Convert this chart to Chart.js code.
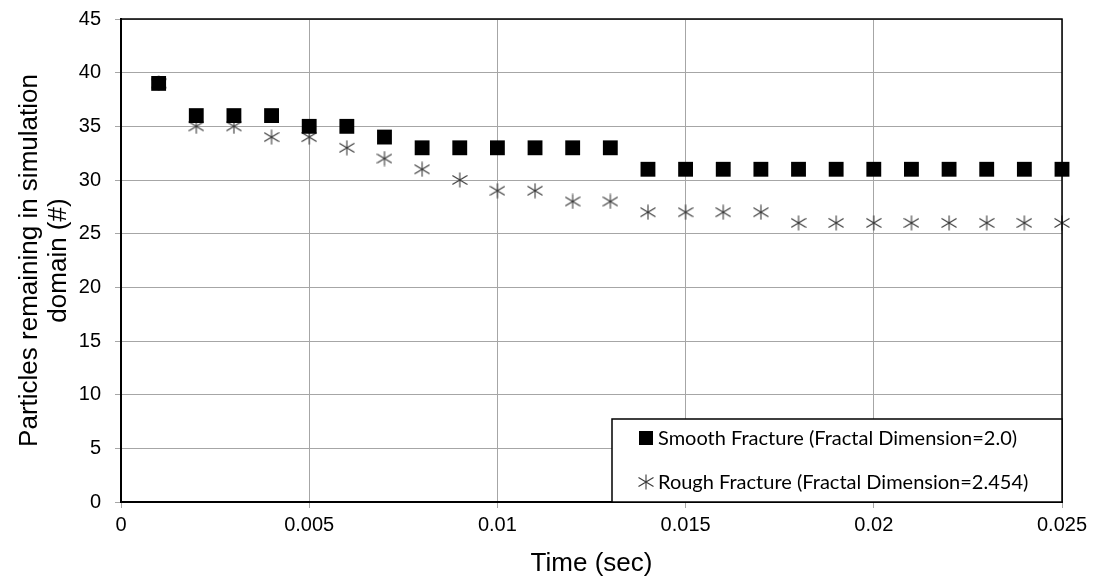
<!DOCTYPE html>
<html>
<head>
<meta charset="utf-8">
<script src="https://cdn.jsdelivr.net/npm/chart.js@4/dist/chart.umd.min.js"></script>
<style>
  html, body { margin: 0; padding: 0; background: #fff; }
  #wrap { width: 1094px; height: 579px; }
</style>
</head>
<body>
<div id="wrap"><canvas id="chart" width="1094" height="579"></canvas></div>
<script>
// data
const timeSmooth = [0.001, 0.002, 0.003, 0.004, 0.005, 0.006, 0.007, 0.008, 0.009, 0.010, 0.011, 0.012, 0.013,
    0.014, 0.015, 0.016, 0.017, 0.018, 0.019, 0.020, 0.021, 0.022, 0.023, 0.024, 0.025];
const smoothCounts = [39, 36, 36, 36, 35, 35, 34, 33, 33, 33, 33, 33, 33,
    31, 31, 31, 31, 31, 31, 31, 31, 31, 31, 31, 31];
const timeRough = [0.001, 0.002, 0.003, 0.004, 0.005, 0.006, 0.007, 0.008, 0.009, 0.010, 0.011, 0.012, 0.013,
    0.014, 0.015, 0.016, 0.017, 0.018, 0.019, 0.020, 0.021, 0.022, 0.023, 0.024, 0.025];
const roughCounts = [39, 35, 35, 34, 34, 33, 32, 31, 30, 29, 29, 28, 28,
    27, 27, 27, 27, 26, 26, 26, 26, 26, 26, 26, 26];
const xTicks = [0, 0.005, 0.01, 0.015, 0.02, 0.025];
const yTicks = [0, 5, 10, 15, 20, 25, 30, 35, 40, 45];
const seriesNames = ['Smooth Fracture (Fractal Dimension=2.0)', 'Rough Fracture (Fractal Dimension=2.454)'];

// excel style asterisk marker (X with a vertical bar)
function makeStar(size) {
    const c = document.createElement('canvas');
    c.width = size; c.height = size;
    const g = c.getContext('2d');
    g.strokeStyle = '#3a3a3a';
    g.lineWidth = 1.1;
    const m = size / 2;
    g.beginPath();
    g.moveTo(m, 0.5); g.lineTo(m, size - 0.5);
    g.moveTo(0.5, size * 0.22); g.lineTo(size - 0.5, size * 0.78);
    g.moveTo(size - 0.5, size * 0.22); g.lineTo(0.5, size * 0.78);
    g.stroke();
    return c;
}
const starMark = makeStar(16);

const toPoints = (xs, ys) => xs.map((x, i) => ({x: x, y: ys[i]}));

// box round the plot area
const frame = {
    id: 'frame',
    afterDatasetsDraw(chart) {
        const a = chart.chartArea, ctx = chart.ctx;
        ctx.save();
        ctx.strokeStyle = '#000';
        ctx.lineWidth = 1.5;
        ctx.beginPath();
        ctx.moveTo(a.left, a.top); ctx.lineTo(a.right, a.top); ctx.lineTo(a.right, a.bottom);
        ctx.stroke();
        ctx.restore();
    }
};

// legend sitting in the lower right corner of the plot
const cornerLegend = {
    id: 'cornerLegend',
    afterDraw(chart) {
        const a = chart.chartArea, ctx = chart.ctx;
        const w = 450, h = 83;
        const x0 = a.right - w, y0 = a.bottom - h;
        ctx.save();
        ctx.fillStyle = '#fff';
        ctx.fillRect(x0, y0, w, h);
        ctx.strokeStyle = '#000';
        ctx.lineWidth = 1.5;
        ctx.strokeRect(x0, y0, w, h);
        ctx.font = '20px Lato';
        ctx.fillStyle = '#000';
        ctx.textBaseline = 'middle';
        const rows = [y0 + 19, y0 + 63];
        chart.data.datasets.forEach((ds, i) => {
            const cy = rows[i];
            if (ds.pointStyle === 'rect') {
                ctx.fillStyle = '#000';
                ctx.fillRect(x0 + 27, cy - 7, 14, 14);
            } else {
                ctx.drawImage(ds.pointStyle, x0 + 26, cy - 8);
            }
            ctx.fillStyle = '#000';
            ctx.fillText(ds.label, x0 + 46, cy + 1);
        });
        ctx.restore();
    }
};

new Chart(document.getElementById('chart'), {
    type: 'scatter',
    data: {
        datasets: [
            {
                label: seriesNames[0],
                data: toPoints(timeSmooth, smoothCounts),
                pointStyle: 'rect',
                pointRadius: 10.5,
                pointHoverRadius: 10.5,
                backgroundColor: '#000',
                borderWidth: 0,
                clip: false
            },
            {
                label: seriesNames[1],
                data: toPoints(timeRough, roughCounts),
                pointStyle: starMark,
                pointRadius: 8,
                backgroundColor: '#3a3a3a',
                borderWidth: 0,
                clip: false
            }
        ]
    },
    options: {
        responsive: false,
        animation: false,
        layout: {padding: {left: 0, right: 32, top: 19, bottom: 0}},
        plugins: {
            legend: {display: false},
            tooltip: {enabled: false}
        },
        scales: {
            x: {
                type: 'linear',
                min: 0,
                max: 0.025,
                afterBuildTicks: s => { s.ticks = xTicks.map(v => ({value: v})); },
                afterFit: s => { s.height = 77; s.paddingLeft = 0; s.paddingRight = 0; },
                ticks: {
                    color: '#000',
                    padding: 5,
                    font: {family: 'Liberation Sans', size: 20},
                    callback: v => String(v)
                },
                grid: {color: '#a6a6a6', lineWidth: 1, tickLength: 6, tickColor: '#a6a6a6'},
                border: {color: '#000', width: 2},
                title: {
                    display: true,
                    text: 'Time (sec)',
                    color: '#000',
                    font: {family: 'Liberation Sans', size: 26},
                    padding: {top: 2, bottom: 0}
                }
            },
            y: {
                min: 0,
                max: 45,
                afterBuildTicks: s => { s.ticks = yTicks.map(v => ({value: v})); },
                afterFit: s => { s.width = 121; s.paddingTop = 0; s.paddingBottom = 0; },
                ticks: {
                    color: '#000',
                    padding: 14,
                    font: {family: 'Liberation Sans', size: 20}
                },
                grid: {color: '#a6a6a6', lineWidth: 1, tickLength: 6, tickColor: '#a6a6a6'},
                border: {color: '#000', width: 2},
                title: {
                    display: true,
                    text: ['Particles remaining in simulation', 'domain (#)'],
                    color: '#000',
                    font: {family: 'Liberation Sans', size: 26, lineHeight: 1.1},
                    padding: {top: 16, bottom: 0}
                }
            }
        }
    },
    plugins: [frame, cornerLegend]
});
</script>
</body>
</html>
